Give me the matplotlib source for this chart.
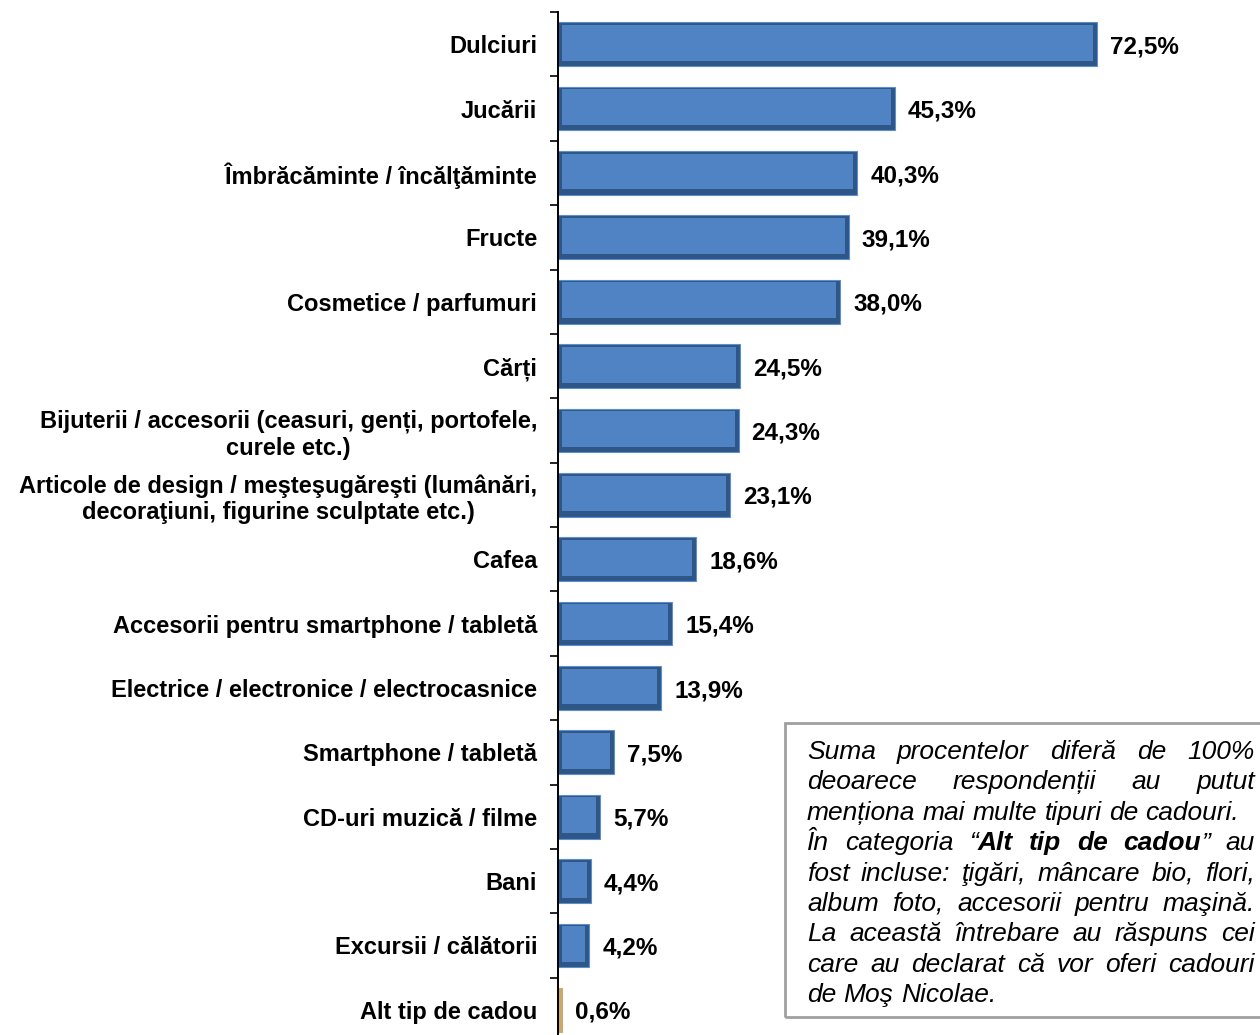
import matplotlib.pyplot as plt
import numpy as np
from matplotlib.patches import Rectangle


CATEGORIES = [
    "Dulciuri",
    "Jucării",
    "Îmbrăcăminte / încălţăminte",
    "Fructe",
    "Cosmetice / parfumuri",
    "Cărți",
    "Bijuterii / accesorii (ceasuri, genți, portofele,\ncurele etc.)",
    "Articole de design / meşteşugăreşti (lumânări,\ndecoraţiuni, figurine sculptate etc.)",
    "Cafea",
    "Accesorii pentru smartphone / tabletă",
    "Electrice / electronice / electrocasnice",
    "Smartphone / tabletă",
    "CD-uri muzică / filme",
    "Bani",
    "Excursii / călătorii",
    "Alt tip de cadou",
]
VALUES = [72.5, 45.3, 40.3, 39.1, 38.0, 24.5, 24.3, 23.1, 18.6, 15.4, 13.9, 7.5, 5.7, 4.4, 4.2, 0.6]
VALUE_LABELS = [f"{v:.1f}%".replace(".", ",") for v in VALUES]

# note box lines (text, justified?); '*' marks bold pieces
NOTE_LINES = [
    ("Suma procentelor diferă de 100%", True),
    ("deoarece respondenții au putut", True),
    ("menționa mai multe tipuri de cadouri.", False),
    ("În categoria “*Alt *tip *de *cadou” au", True),
    ("fost incluse: ţigări, mâncare bio, flori,", True),
    ("album foto, accesorii pentru maşină.", True),
    ("La această întrebare au răspuns cei", True),
    ("care au declarat că vor oferi cadouri", True),
    ("de Moş Nicolae.", False),
]

FAMILY = ["Liberation Sans", "DejaVu Sans"]
BAR_DARK = "#2E5687"
BAR_FACE = "#4F83C3"
BAR_EDGE = "#5C8FCF"
OTHER_COLOR = "#C9AA6B"

W, H = 1260, 1035


def split_word(word: str) -> list[tuple[str, bool]]:
    pieces = []
    if word.startswith("“*"):
        pieces.append(("“", False))
        pieces.append((word[2:], True))
    elif word.startswith("*") and word.endswith("”"):
        pieces.append((word[1:-1], True))
        pieces.append(("”", False))
    elif word.startswith("*"):
        pieces.append((word[1:], True))
    else:
        pieces.append((word, False))
    return pieces


def draw_note(fig) -> None:
    box = Rectangle((785 / W, 1 - 1017 / H), 1.0, (1017 - 723) / H, transform=fig.transFigure,
                    fill=False, edgecolor="#A0A0A0", linewidth=2, clip_on=False)
    fig.add_artist(box)
    renderer = fig.canvas.get_renderer()
    x0, x1 = 807 / W, 1255 / W
    size = 19

    def width(txt, bold):
        t = fig.text(0, 0, txt, fontsize=size, style="italic", family=FAMILY,
                     fontweight="bold" if bold else "normal")
        w = t.get_window_extent(renderer).width / W
        t.remove()
        return w

    space = width("a a", False) - width("aa", False)
    for i, (line, justify) in enumerate(NOTE_LINES):
        y = 1 - (752 + i * 30.4) / H
        words = [split_word(w) for w in line.split(" ")]
        widths = [sum(width(p, b) for p, b in w) for w in words]
        gap = (x1 - x0 - sum(widths)) / (len(words) - 1) if justify else space
        x = x0
        for w, ww in zip(words, widths):
            px = x
            for p, b in w:
                fig.text(px, y, p, fontsize=size, style="italic", family=FAMILY,
                         fontweight="bold" if b else "normal", va="center", ha="left")
                px += width(p, b)
            x += ww + gap


def main() -> None:
    fig = plt.figure(figsize=(W / 100, H / 100), dpi=100)
    ax = fig.add_axes([558 / W, (H - 1042) / H, 1 - 558 / W, (1042 - 12) / H])
    y = np.arange(len(CATEGORIES))
    px_x = 7.43  # pixels per percent
    px_y = 64.4
    colors = [BAR_DARK] * (len(VALUES) - 1) + [OTHER_COLOR]
    edges = [BAR_EDGE] * (len(VALUES) - 1) + [OTHER_COLOR]
    ax.barh(y, VALUES, height=0.68, color=colors, edgecolor=edges, linewidth=0.8, zorder=2)
    inset_x, inset_y = 4.0 / px_x, 4.0 / px_y
    for yi, v in zip(y[:-1], VALUES[:-1]):
        if v > 3 * inset_x:
            ax.barh(yi - inset_y / 3, v - 2 * inset_x, left=inset_x, height=0.68 - 2 * inset_y,
                    color=BAR_FACE, linewidth=0, zorder=3)
    for yi, v, lab in zip(y, VALUES, VALUE_LABELS):
        ax.text(v + 13 / px_x, yi + 0.04, lab, fontsize=17.5, fontweight="bold", family=FAMILY,
                va="center", ha="left")

    ax.set_xlim(0, (W - 558) / px_x)
    ax.set_ylim(len(CATEGORIES) - 0.5, -0.5)
    ax.set_yticks(y)
    ax.set_yticklabels(CATEGORIES, fontsize=17, fontweight="bold", family=FAMILY,
                       multialignment="center")
    ax.set_yticks(np.arange(-0.5, len(CATEGORIES), 1), minor=True)
    ax.tick_params(axis="y", which="major", length=0, pad=15)
    ax.tick_params(axis="y", which="minor", length=5.5, width=1.2, direction="out")
    ax.set_xticks([])
    for side in ["top", "right", "bottom"]:
        ax.spines[side].set_visible(False)
    ax.spines["left"].set_linewidth(1.4)
    ax.patch.set_visible(False)

    draw_note(fig)
    fig.savefig("out.png", dpi=100)
    plt.close(fig)


if __name__ == "__main__":
    main()
